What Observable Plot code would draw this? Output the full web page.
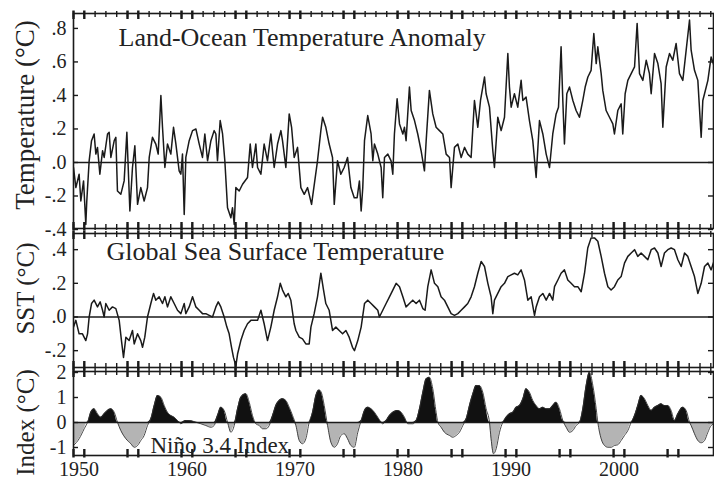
<!DOCTYPE html>
<html><head><meta charset="utf-8">
<script src="https://cdn.jsdelivr.net/npm/d3@7"></script>
<script src="https://cdn.jsdelivr.net/npm/@observablehq/plot@0.6"></script>
<style>
body{margin:0;background:#fff;}
#chart{position:relative;width:714px;height:481px;overflow:hidden;background:#fff;}
#chart svg{position:absolute;left:0;overflow:visible;background:transparent;}
</style></head><body><div id="chart"></div>
<script>
// Land-Ocean Temperature Anomaly (°C), [year, value]
const landOcean = [
[1949.50,-0.03],[1949.72,-0.15],[1950.02,-0.07],[1950.18,-0.23],[1950.43,-0.11],[1950.64,-0.37],[1950.73,-0.23],[1950.95,0.01],
[1951.17,0.13],[1951.41,0.17],[1951.57,0.05],[1951.72,0.09],[1951.94,-0.07],[1952.19,0.07],[1952.34,0.03],[1952.65,0.17],
[1952.80,0.18],[1952.96,0.03],[1953.27,0.13],[1953.42,0.15],[1953.57,-0.17],[1953.88,-0.19],[1954.19,-0.11],[1954.44,0.18],
[1954.72,-0.29],[1954.96,-0.03],[1955.18,0.10],[1955.43,-0.25],[1955.73,-0.15],[1956.04,-0.23],[1956.35,-0.15],[1956.51,0.03],
[1956.81,0.15],[1957.12,0.11],[1957.34,0.05],[1957.59,0.40],[1957.74,0.21],[1957.96,-0.03],[1958.20,0.11],[1958.51,0.05],
[1958.76,0.21],[1958.98,0.11],[1959.28,-0.05],[1959.44,-0.07],[1959.59,0.05],[1959.75,-0.31],[1959.90,0.03],[1960.21,0.13],
[1960.52,0.19],[1960.83,0.20],[1961.14,0.11],[1961.44,0.03],[1961.66,0.17],[1961.91,0.01],[1962.22,0.13],[1962.52,0.19],
[1962.68,0.17],[1962.83,0.01],[1963.08,0.25],[1963.30,0.17],[1963.51,0.01],[1963.76,-0.27],[1964.07,-0.33],[1964.22,-0.27],
[1964.38,-0.37],[1964.53,-0.15],[1964.84,-0.17],[1965.15,-0.13],[1965.61,-0.09],[1965.86,0.11],[1966.07,-0.03],[1966.38,0.11],
[1966.54,-0.03],[1966.85,-0.07],[1967.15,0.11],[1967.46,0.01],[1967.77,0.17],[1968.08,-0.03],[1968.39,0.11],[1968.70,0.19],
[1968.85,0.13],[1969.16,-0.03],[1969.47,0.29],[1969.69,0.21],[1969.93,0.03],[1970.24,0.09],[1970.55,-0.15],[1970.86,-0.19],
[1971.17,-0.15],[1971.54,-0.25],[1972.09,0.01],[1972.40,0.19],[1972.56,0.27],[1972.86,0.21],[1973.17,0.11],[1973.48,0.03],
[1973.64,-0.25],[1973.94,0.01],[1974.25,-0.07],[1974.56,-0.03],[1974.87,0.03],[1975.18,-0.15],[1975.49,-0.21],[1975.76,-0.21],
[1975.97,-0.11],[1976.13,-0.29],[1976.28,-0.15],[1976.44,0.13],[1976.74,0.28],[1977.05,0.17],[1977.21,0.01],[1977.36,0.11],
[1977.67,0.05],[1977.98,-0.03],[1978.13,-0.21],[1978.29,0.03],[1978.60,0.05],[1978.90,0.01],[1979.06,-0.07],[1979.21,0.17],
[1979.46,0.38],[1979.68,0.23],[1979.99,0.17],[1980.14,0.21],[1980.29,0.13],[1980.60,0.45],[1980.76,0.31],[1981.07,0.25],
[1981.37,0.17],[1981.68,0.07],[1981.99,-0.05],[1982.15,0.13],[1982.45,0.43],[1982.76,0.29],[1983.07,0.21],[1983.38,0.19],
[1983.69,0.17],[1984.00,0.05],[1984.31,0.03],[1984.46,-0.15],[1984.77,0.09],[1985.08,0.11],[1985.39,0.03],[1985.70,0.09],
[1986.00,0.05],[1986.31,0.03],[1986.62,0.37],[1986.93,0.21],[1987.18,0.37],[1987.55,0.51],[1987.70,0.41],[1988.01,0.33],
[1988.32,0.07],[1988.47,-0.03],[1988.78,0.27],[1989.09,0.19],[1989.40,0.27],[1989.71,0.65],[1989.86,0.45],[1990.02,0.33],
[1990.32,0.41],[1990.63,0.33],[1990.94,0.49],[1991.10,0.37],[1991.40,0.39],[1991.71,0.25],[1992.02,0.13],[1992.33,-0.09],
[1992.64,0.25],[1992.95,0.17],[1993.26,0.05],[1993.57,-0.03],[1993.87,0.17],[1994.18,0.29],[1994.40,0.33],[1994.64,0.69],
[1994.80,0.37],[1994.95,0.11],[1995.17,0.41],[1995.42,0.45],[1995.73,0.37],[1996.03,0.31],[1996.34,0.27],[1996.65,0.37],
[1996.87,0.45],[1997.12,0.51],[1997.42,0.55],[1997.67,0.77],[1997.89,0.59],[1998.04,0.69],[1998.35,0.53],[1998.50,0.43],
[1998.81,0.31],[1999.12,0.27],[1999.43,0.23],[1999.58,0.17],[1999.89,0.31],[2000.20,0.35],[2000.35,0.17],[2000.57,0.41],
[2000.82,0.49],[2001.13,0.53],[2001.44,0.57],[2001.68,0.83],[2001.90,0.53],[2002.21,0.49],[2002.52,0.61],[2002.82,0.53],
[2002.98,0.41],[2003.29,0.65],[2003.60,0.59],[2003.90,0.47],[2004.06,0.21],[2004.37,0.57],[2004.68,0.65],[2004.98,0.61],
[2005.29,0.71],[2005.60,0.53],[2005.91,0.49],[2006.22,0.67],[2006.53,0.85],[2006.68,0.67],[2006.99,0.55],[2007.30,0.49],
[2007.61,0.15],[2007.76,0.37],[2007.92,0.41],[2008.23,0.49],[2008.53,0.63],[2008.84,0.57]
];

// Global Sea Surface Temperature (°C), [year, value]
const seaSurface = [
[1949.50,-0.06],[1949.72,-0.02],[1950.02,-0.10],[1950.33,-0.10],[1950.64,-0.14],[1950.80,-0.10],[1950.95,0.00],[1951.17,0.08],
[1951.41,0.10],[1951.72,0.06],[1951.97,0.09],[1952.19,0.04],[1952.34,0.00],[1952.49,0.08],[1952.80,0.04],[1953.11,0.06],
[1953.42,0.05],[1953.73,-0.02],[1953.94,-0.14],[1954.13,-0.24],[1954.35,-0.12],[1954.65,-0.14],[1954.96,-0.08],[1955.12,-0.16],
[1955.43,-0.10],[1955.73,-0.14],[1955.89,-0.18],[1956.10,-0.12],[1956.35,0.00],[1956.66,0.08],[1956.91,0.14],[1957.12,0.10],
[1957.43,0.12],[1957.74,0.08],[1957.96,0.12],[1958.20,0.06],[1958.51,0.12],[1958.82,0.08],[1959.13,0.04],[1959.44,0.02],
[1959.75,0.08],[1959.90,0.02],[1960.21,0.06],[1960.52,0.12],[1960.83,0.06],[1961.14,0.04],[1961.44,0.02],[1961.75,0.02],
[1962.06,0.01],[1962.37,0.00],[1962.68,0.06],[1962.90,0.09],[1963.14,0.06],[1963.45,0.00],[1963.70,-0.06],[1963.91,-0.10],
[1964.13,-0.18],[1964.31,-0.24],[1964.53,-0.29],[1964.69,-0.22],[1964.99,-0.14],[1965.30,-0.08],[1965.61,-0.04],[1965.92,-0.02],
[1966.23,-0.02],[1966.54,-0.02],[1966.85,0.04],[1967.15,-0.04],[1967.46,-0.14],[1967.77,-0.06],[1968.08,0.04],[1968.39,0.12],
[1968.64,0.20],[1968.85,0.16],[1969.16,0.12],[1969.38,0.14],[1969.62,0.10],[1969.93,-0.04],[1970.09,-0.08],[1970.40,-0.12],
[1970.70,-0.13],[1971.01,-0.16],[1971.32,-0.16],[1971.48,-0.06],[1971.78,0.02],[1972.09,0.12],[1972.40,0.26],[1972.65,0.16],
[1972.86,0.08],[1973.17,0.04],[1973.48,-0.08],[1973.79,-0.06],[1974.10,-0.08],[1974.41,-0.10],[1974.72,-0.08],[1975.02,-0.12],
[1975.33,-0.18],[1975.51,-0.20],[1975.82,-0.14],[1976.13,-0.06],[1976.44,0.08],[1976.74,0.10],[1977.05,0.08],[1977.36,0.06],
[1977.67,0.04],[1977.82,0.00],[1978.13,0.04],[1978.44,0.08],[1978.75,0.12],[1979.06,0.16],[1979.37,0.20],[1979.68,0.18],
[1979.99,0.12],[1980.29,0.06],[1980.60,0.08],[1980.91,0.10],[1981.22,0.08],[1981.53,0.10],[1981.84,0.05],[1982.05,0.04],
[1982.30,0.18],[1982.61,0.28],[1982.92,0.20],[1983.23,0.18],[1983.53,0.12],[1983.84,0.10],[1984.15,0.06],[1984.46,0.02],
[1984.77,0.01],[1985.08,0.02],[1985.39,0.04],[1985.70,0.06],[1986.00,0.08],[1986.31,0.12],[1986.62,0.18],[1986.93,0.26],
[1987.24,0.33],[1987.55,0.30],[1987.86,0.20],[1988.16,0.12],[1988.32,0.02],[1988.47,0.10],[1988.78,0.14],[1989.09,0.18],
[1989.40,0.20],[1989.71,0.24],[1990.02,0.25],[1990.32,0.26],[1990.63,0.25],[1990.94,0.28],[1991.25,0.22],[1991.56,0.10],
[1991.87,0.12],[1992.18,0.01],[1992.33,0.06],[1992.64,0.12],[1992.95,0.14],[1993.26,0.10],[1993.57,0.14],[1993.87,0.10],
[1994.03,0.18],[1994.34,0.22],[1994.64,0.26],[1994.95,0.28],[1995.26,0.22],[1995.57,0.20],[1995.88,0.18],[1996.19,0.18],
[1996.50,0.15],[1996.81,0.26],[1997.11,0.41],[1997.42,0.47],[1997.73,0.47],[1998.04,0.45],[1998.35,0.36],[1998.66,0.26],
[1998.97,0.18],[1999.27,0.16],[1999.58,0.18],[1999.89,0.22],[2000.20,0.24],[2000.51,0.32],[2000.82,0.36],[2001.13,0.38],
[2001.44,0.40],[2001.74,0.36],[2002.05,0.38],[2002.36,0.36],[2002.67,0.34],[2002.98,0.40],[2003.29,0.41],[2003.60,0.38],
[2003.90,0.30],[2004.21,0.38],[2004.52,0.40],[2004.83,0.41],[2005.14,0.40],[2005.45,0.34],[2005.76,0.30],[2006.07,0.38],
[2006.37,0.36],[2006.68,0.30],[2006.99,0.24],[2007.30,0.14],[2007.61,0.20],[2007.92,0.30],[2008.23,0.32],[2008.53,0.28],
[2008.84,0.34]
];

// Niño 3.4 Index (°C), [year, value]
const nino34 = [
[1949.50,-0.92],[1950.02,-0.65],[1950.49,-0.25],[1950.80,0.01],[1951.10,0.41],[1951.41,0.55],[1951.72,0.35],[1952.03,0.21],
[1952.34,0.35],[1952.65,0.48],[1952.96,0.55],[1953.27,0.41],[1953.57,0.01],[1953.88,-0.32],[1954.35,-0.65],[1954.81,-0.85],
[1955.12,-0.99],[1955.43,-0.92],[1955.73,-0.72],[1956.04,-0.52],[1956.35,-0.12],[1956.66,0.15],[1956.97,0.68],[1957.28,1.08],
[1957.59,1.01],[1957.90,0.68],[1958.20,0.41],[1958.51,0.28],[1958.82,0.21],[1959.13,0.08],[1959.44,-0.05],[1959.90,0.08],
[1960.36,0.07],[1960.83,0.01],[1961.29,-0.05],[1961.75,-0.12],[1962.22,-0.19],[1962.52,-0.12],[1962.83,0.28],[1963.14,0.61],
[1963.45,0.48],[1963.76,0.01],[1964.07,-0.39],[1964.38,-0.12],[1964.69,0.55],[1964.99,1.01],[1965.46,1.15],[1965.77,0.81],
[1966.07,0.28],[1966.38,-0.05],[1966.69,-0.12],[1967.00,-0.25],[1967.31,-0.25],[1967.62,-0.12],[1967.93,0.28],[1968.23,0.68],
[1968.54,0.88],[1968.85,0.95],[1969.16,0.88],[1969.47,0.61],[1969.78,0.28],[1970.09,-0.12],[1970.40,-0.72],[1970.70,-0.85],
[1971.01,-0.65],[1971.32,0.01],[1971.63,0.41],[1971.94,1.08],[1972.25,1.30],[1972.46,1.18],[1972.71,0.68],[1973.02,-0.12],
[1973.33,-0.79],[1973.64,-0.99],[1973.94,-0.85],[1974.25,-0.52],[1974.56,-0.45],[1974.87,-0.65],[1975.18,-0.92],[1975.49,-0.99],
[1975.82,-0.39],[1976.13,0.08],[1976.44,0.48],[1976.74,0.61],[1977.05,0.55],[1977.36,0.41],[1977.67,0.21],[1978.13,-0.05],
[1978.44,0.08],[1978.75,0.28],[1979.06,0.41],[1979.52,0.48],[1979.83,0.41],[1980.14,0.21],[1980.45,-0.05],[1980.91,-0.05],
[1981.22,0.08],[1981.53,0.55],[1981.84,1.21],[1982.15,1.75],[1982.45,1.81],[1982.76,1.35],[1983.07,0.41],[1983.23,0.01],
[1983.53,-0.19],[1983.84,-0.39],[1984.31,-0.52],[1984.61,-0.59],[1984.92,-0.52],[1985.23,-0.39],[1985.54,-0.12],[1985.85,0.15],
[1986.16,0.68],[1986.47,1.15],[1986.78,1.48],[1987.08,1.48],[1987.39,1.21],[1987.70,0.55],[1988.01,0.01],[1988.16,-0.65],
[1988.38,-1.25],[1988.63,-1.05],[1988.94,-0.39],[1989.24,0.01],[1989.55,0.21],[1989.86,0.35],[1990.17,0.41],[1990.48,0.61],
[1990.79,0.68],[1991.10,0.95],[1991.40,1.35],[1991.71,1.21],[1992.02,0.88],[1992.33,0.68],[1992.64,0.55],[1992.95,0.61],
[1993.26,0.55],[1993.57,0.55],[1993.87,0.68],[1994.18,0.81],[1994.49,0.55],[1994.80,0.08],[1995.11,-0.19],[1995.42,-0.39],
[1995.73,-0.32],[1996.03,-0.12],[1996.34,0.01],[1996.65,0.55],[1996.96,1.48],[1997.27,2.01],[1997.58,1.48],[1997.89,0.55],
[1998.04,0.01],[1998.35,-0.65],[1998.66,-0.92],[1998.97,-0.99],[1999.27,-0.99],[1999.58,-0.92],[1999.89,-0.89],[2000.20,-0.72],
[2000.51,-0.52],[2000.82,-0.32],[2001.13,0.01],[2001.44,0.28],[2001.74,0.68],[2002.05,1.08],[2002.36,0.95],[2002.67,0.68],
[2002.98,0.48],[2003.29,0.61],[2003.60,0.68],[2003.90,0.75],[2004.21,0.68],[2004.52,0.68],[2004.83,0.48],[2005.14,0.08],
[2005.45,0.35],[2005.91,0.61],[2006.22,0.48],[2006.53,0.01],[2006.68,-0.12],[2006.99,-0.45],[2007.30,-0.72],[2007.61,-0.81],
[2007.92,-0.72],[2008.23,-0.39],[2008.53,-0.12],[2008.84,-0.05]
];

const tempTicks = [-0.4, -0.2, 0, 0.2, 0.4, 0.6, 0.8];
const tempTickLabels = ["-.4", "-.2", ".0", ".2", ".4", ".6", ".8"];
const sstTicks = [-0.2, 0, 0.2, 0.4];
const sstTickLabels = ["-.2", ".0", ".2", ".4"];
const ninoTicks = [-1, 0, 1, 2];
const ninoTickLabels = ["-1", "0", "1", "2"];
const yearTicks = [1950, 1960, 1970, 1980, 1990, 2000];
const yearTickLabels = ["1950", "1960", "1970", "1980", "1990", "2000"];
const panelTitles = ["Land-Ocean Temperature Anomaly", "Global Sea Surface Temperature", "Niño 3.4 Index"];
const axisTitles = ["Temperature (°C)", "SST (°C)", "Index (°C)"];

// layout / style
const W = 714, ML = 73, MR = 1;
const X_DOMAIN = [1949.5, 2008.75];
const SERIF = "'Liberation Serif','Times New Roman',Times,serif";
const INK = "#1a1a1a";
const minorTicks = d3.range(1949.5, 2009, 1);
const majorTicks = minorTicks.filter(t => Math.abs(t - Math.round(t / 5) * 5) === 0.5);

function edgeTicks(ih, {bottomMinor = true} = {}) {
  const m = [];
  m.push(Plot.ruleX(minorTicks, {x: d => d, insetTop: -2, insetBottom: ih - 4, stroke: INK, strokeWidth: 1.4}));
  m.push(Plot.ruleX(majorTicks, {x: d => d, insetTop: -2.5, insetBottom: ih - 6, stroke: INK, strokeWidth: 2.4}));
  if (bottomMinor) m.push(Plot.ruleX(minorTicks, {x: d => d, insetBottom: -2, insetTop: ih - 4, stroke: INK, strokeWidth: 1.4}));
  m.push(Plot.ruleX(majorTicks, {x: d => d, insetBottom: -2.5, insetTop: ih - 6, stroke: INK, strokeWidth: 2.4}));
  return m;
}

function panel({top, height, mt, mb, yDomain, ticks, labels, title, titleDx, titleDy, titleSize, axisTitle, axisDy, axisSize, marks, xAxis, bottomMinor}) {
  const ih = height - mt - mb, iw = W - ML - MR;
  const all = [
    ...marks,
    Plot.ruleY([0], {stroke: INK, strokeWidth: 1.3}),
    Plot.frame({stroke: INK, strokeWidth: 1.6}),
    ...edgeTicks(ih, {bottomMinor}),
    Plot.ruleY(ticks, {y: d => d, insetRight: iw - 5, stroke: INK, strokeWidth: 1.4}),
    Plot.ruleY(ticks, {y: d => d, insetLeft: iw - 5, stroke: INK, strokeWidth: 1.4}),
    Plot.axisY({ticks, tickSize: 0, tickPadding: 7, tickFormat: d => labels[ticks.indexOf(d)], label: null, fill: "#222"}),
    Plot.text([title], {text: d => d, frameAnchor: "top-left", textAnchor: "start", lineAnchor: "bottom", dx: titleDx, dy: titleDy, fontSize: titleSize, fill: "#222"}),
    Plot.text([axisTitle], {text: d => d, frameAnchor: "left", rotate: -90, textAnchor: "middle", lineAnchor: "middle", dx: -48, dy: axisDy, fontSize: axisSize, fill: "#222"})
  ];
  if (xAxis) all.push(Plot.axisX({ticks: yearTicks, tickSize: 0, tickPadding: 6, tickFormat: d => yearTickLabels[yearTicks.indexOf(d)], label: null, fill: "#222"}));
  const svg = Plot.plot({
    width: W, height, marginLeft: ML, marginRight: MR, marginTop: mt, marginBottom: mb,
    x: {domain: X_DOMAIN, axis: null},
    y: {domain: yDomain, axis: null},
    style: {fontFamily: SERIF, fontSize: "20px", background: "transparent", overflow: "visible", color: INK},
    marks: all
  });
  svg.style.top = top + "px";
  return svg;
}

const chart = document.getElementById("chart");

chart.append(panel({
  top: 0, height: 230, mt: 13, mb: 2,
  yDomain: [-0.394, 0.889], ticks: tempTicks, labels: tempTickLabels,
  title: panelTitles[0], titleDx: 45, titleDy: 32, titleSize: 26,
  axisTitle: axisTitles[0], axisDy: -6, axisSize: 27,
  marks: [Plot.line(landOcean, {x: d => d[0], y: d => d[1], stroke: INK, strokeWidth: 1.5, clip: true})]
}));

chart.append(panel({
  top: 230, height: 139, mt: 3, mb: 2,
  yDomain: [-0.300, 0.496], ticks: sstTicks, labels: sstTickLabels,
  title: panelTitles[1], titleDx: 33, titleDy: 26, titleSize: 26,
  axisTitle: axisTitles[1], axisDy: -12, axisSize: 25,
  marks: [Plot.line(seaSurface, {x: d => d[0], y: d => d[1], stroke: INK, strokeWidth: 1.5, clip: true})]
}));

chart.append(panel({
  top: 369, height: 112, mt: 2, mb: 26,
  yDomain: [-1.32, 2.04], ticks: ninoTicks, labels: ninoTickLabels,
  title: panelTitles[2], titleDx: 77, titleDy: 81, titleSize: 23,
  axisTitle: axisTitles[2], axisDy: 9, axisSize: 25, xAxis: true, bottomMinor: false,
  marks: [
    Plot.areaY(nino34, {x: d => d[0], y1: 0, y2: d => Math.max(d[1], 0), fill: "#111", curve: "monotone-x", clip: true}),
    Plot.areaY(nino34, {x: d => d[0], y1: 0, y2: d => Math.min(d[1], 0), fill: "#b4b4b4", curve: "monotone-x", clip: true}),
    Plot.line(nino34, {x: d => d[0], y: d => d[1], stroke: "#333", strokeWidth: 0.9, curve: "monotone-x", clip: true})
  ]
}));
</script></body></html>
